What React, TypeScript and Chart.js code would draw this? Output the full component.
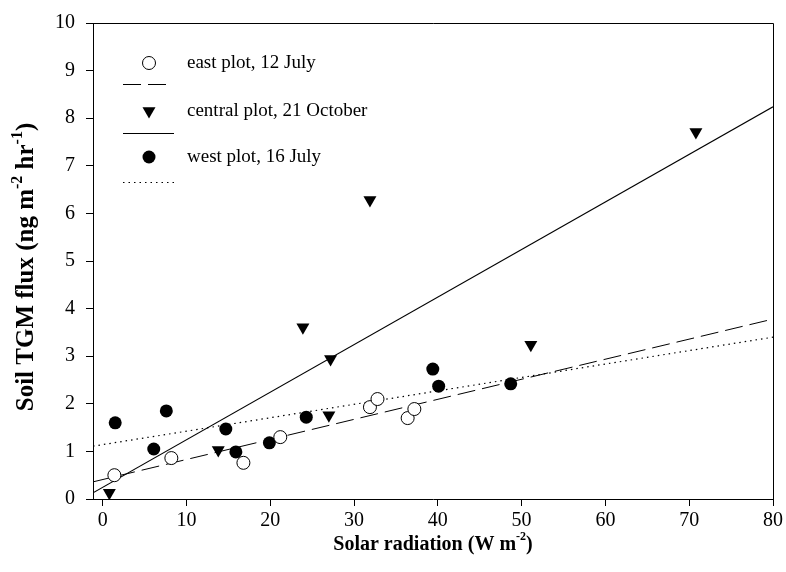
import React, { useEffect, useRef } from "react";
import { Chart, registerables } from "chart.js";

Chart.register(...registerables);

// ---- data ----
const xTicks = [0, 10, 20, 30, 40, 50, 60, 70, 80];
const yTicks = [0, 1, 2, 3, 4, 5, 6, 7, 8, 9, 10];

const eastX = [1.4, 8.2, 16.8, 21.2, 31.9, 32.8, 36.4, 37.2];
const eastY = [0.5, 0.86, 0.76, 1.3, 1.93, 2.1, 1.7, 1.89];

const centralX = [0.8, 13.8, 23.9, 27.0, 27.2, 31.9, 51.1, 70.8];
const centralY = [0.13, 1.03, 3.61, 1.76, 2.94, 6.28, 3.24, 7.71];

const westX = [1.5, 6.1, 7.6, 14.7, 15.9, 19.9, 24.3, 39.4, 40.1, 48.7];
const westY = [1.6, 1.05, 1.85, 1.47, 0.99, 1.18, 1.72, 2.73, 2.37, 2.42];

const fitX = [-1.15, 80];
const eastFitY = [0.36, 3.78];
const centralFitY = [0.13, 8.24];
const westFitY = [1.11, 3.4];

const legendLabels = ["east plot, 12 July", "central plot, 21 October", "west plot, 16 July"];

const FONT = "'Liberation Serif', 'Times New Roman', serif";

const toPts = (xs: number[], ys: number[]) => xs.map((x, i) => ({ x, y: ys[i] }));

type Part = { t: string; sup?: boolean };

function drawParts(ctx: CanvasRenderingContext2D, parts: Part[], size: number) {
  const base = `bold ${size}px ${FONT}`;
  const small = `bold ${Math.round(size * 0.62)}px ${FONT}`;
  let total = 0;
  const widths = parts.map((p) => {
    ctx.font = p.sup ? small : base;
    const w = ctx.measureText(p.t).width;
    total += w;
    return w;
  });
  let x = -total / 2;
  parts.forEach((p, i) => {
    ctx.font = p.sup ? small : base;
    ctx.fillText(p.t, x, p.sup ? -size * 0.38 : 0);
    x += widths[i];
  });
}

const decorPlugin = {
  id: "decor",
  afterDraw(chart: any) {
    const ctx: CanvasRenderingContext2D = chart.ctx;
    const a = chart.chartArea;
    ctx.save();
    // frame
    ctx.strokeStyle = "#000";
    ctx.lineWidth = 1;
    ctx.beginPath();
    ctx.moveTo(a.left, a.top + 0.5);
    ctx.lineTo(a.right + 0.5, a.top + 0.5);
    ctx.lineTo(a.right + 0.5, a.bottom);
    ctx.stroke();

    // axis titles
    ctx.fillStyle = "#000";
    ctx.textBaseline = "middle";
    ctx.textAlign = "left";
    ctx.save();
    ctx.translate((a.left + a.right) / 2, 545);
    drawParts(ctx, [{ t: "Solar radiation (W m" }, { t: "-2", sup: true }, { t: ")" }], 20);
    ctx.restore();

    ctx.save();
    ctx.translate(27, 267);
    ctx.rotate(-Math.PI / 2);
    drawParts(
      ctx,
      [{ t: "Soil TGM flux (ng m" }, { t: "-2", sup: true }, { t: " hr" }, { t: "-1", sup: true }, { t: ")" }],
      25
    );
    ctx.restore();

    // legend
    const mx = 149;
    const tx = 187;
    const rows = [63, 111, 157];
    const lineRows = [84, 133, 182];
    ctx.font = `19px ${FONT}`;
    ctx.textAlign = "left";
    ctx.textBaseline = "middle";
    legendLabels.forEach((l, i) => ctx.fillText(l, tx, rows[i]));

    // markers
    ctx.lineWidth = 1;
    ctx.beginPath();
    ctx.arc(mx, rows[0], 6.5, 0, Math.PI * 2);
    ctx.fillStyle = "#fff";
    ctx.fill();
    ctx.stroke();
    ctx.fillStyle = "#000";
    ctx.beginPath();
    const r = 7.5;
    const cy = rows[1];
    ctx.moveTo(mx, cy + r);
    ctx.lineTo(mx - r * 0.866, cy - r * 0.5);
    ctx.lineTo(mx + r * 0.866, cy - r * 0.5);
    ctx.closePath();
    ctx.fill();
    ctx.beginPath();
    ctx.arc(mx, rows[2], 6.5, 0, Math.PI * 2);
    ctx.fill();

    // line samples
    const dashes = [[18, 7], [], [1.5, 4]];
    dashes.forEach((d, i) => {
      ctx.setLineDash(d);
      ctx.beginPath();
      ctx.moveTo(123, lineRows[i] + 0.5);
      ctx.lineTo(i === 0 ? 168 : 174, lineRows[i] + 0.5);
      ctx.stroke();
    });
    ctx.setLineDash([]);
    ctx.restore();
  },
};

export default function App() {
  const ref = useRef<HTMLCanvasElement | null>(null);

  useEffect(() => {
    if (!ref.current) return;
    const tickFont = { family: FONT, size: 20 };
    const chart = new Chart(ref.current, {
      type: "scatter",
      data: {
        datasets: [
          {
            label: legendLabels[0],
            data: toPts(eastX, eastY),
            pointStyle: "circle",
            pointRadius: 6.5,
            backgroundColor: "#fff",
            borderColor: "#000",
            borderWidth: 1,
          },
          {
            label: legendLabels[1],
            data: toPts(centralX, centralY),
            pointStyle: "triangle",
            rotation: 180,
            pointRadius: 7.5,
            backgroundColor: "#000",
            borderColor: "#000",
            borderWidth: 0,
          },
          {
            label: legendLabels[2],
            data: toPts(westX, westY),
            pointStyle: "circle",
            pointRadius: 6.5,
            backgroundColor: "#000",
            borderColor: "#000",
            borderWidth: 0,
          },
          {
            label: "east fit",
            data: toPts(fitX, eastFitY),
            showLine: true,
            pointRadius: 0,
            borderColor: "#000",
            borderWidth: 1,
            borderDash: [18, 7],
          },
          {
            label: "central fit",
            data: toPts(fitX, centralFitY),
            showLine: true,
            pointRadius: 0,
            borderColor: "#000",
            borderWidth: 1.1,
          },
          {
            label: "west fit",
            data: toPts(fitX, westFitY),
            showLine: true,
            pointRadius: 0,
            borderColor: "#000",
            borderWidth: 1.2,
            borderDash: [1.5, 4],
          },
        ] as any,
      },
      options: {
        animation: false,
        responsive: false,
        events: [],
        layout: { padding: { top: 23, right: 12, left: 0, bottom: 0 } },
        plugins: { legend: { display: false }, tooltip: { enabled: false } },
        scales: {
          x: {
            type: "linear",
            min: -1.15,
            max: 80,
            afterBuildTicks: (s: any) => {
              s.ticks = xTicks.map((v) => ({ value: v }));
            },
            afterFit: (s: any) => {
              s.height = 73;
            },
            grid: { display: true, drawOnChartArea: false, drawTicks: true, tickLength: 7, color: "#000" },
            border: { display: true, color: "#000", width: 1 },
            ticks: { font: tickFont, color: "#000", padding: 3, maxRotation: 0 },
          },
          y: {
            type: "linear",
            min: 0,
            max: 10,
            afterBuildTicks: (s: any) => {
              s.ticks = yTicks.map((v) => ({ value: v }));
            },
            afterFit: (s: any) => {
              s.width = 93;
            },
            grid: { display: true, drawOnChartArea: false, drawTicks: true, tickLength: 7, color: "#000" },
            border: { display: true, color: "#000", width: 1 },
            ticks: { font: tickFont, color: "#000", padding: 11 },
          },
        },
      } as any,
      plugins: [decorPlugin],
    });
    return () => chart.destroy();
  }, []);

  return (
    <div style={{ position: "absolute", left: 0, top: 0, width: 786, height: 572, background: "#fff" }}>
      <canvas ref={ref} width={786} height={572} style={{ width: 786, height: 572 }} />
    </div>
  );
}
